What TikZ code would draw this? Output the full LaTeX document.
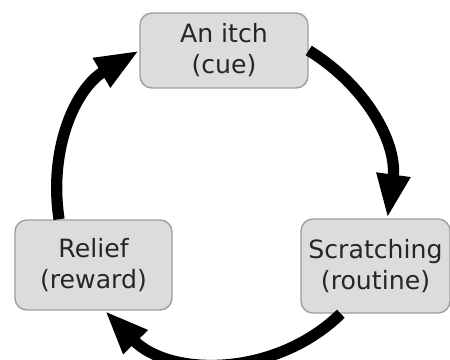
\documentclass[tikz,border=0pt]{standalone}
\usepackage{fontspec}
\setmainfont{DejaVu Sans}
\usetikzlibrary{arrows.meta}
\definecolor{boxgray}{HTML}{DCDCDC}
\definecolor{edgegray}{HTML}{9E9E9E}
\definecolor{textgray}{HTML}{262626}

\begin{document}
\begin{tikzpicture}[x=0.025cm, y=0.025cm,
    stage/.style={draw=edgegray, fill=boxgray, line width=1pt, rounded corners=0.3cm,
      align=center, text=textgray, inner sep=0pt, font=\fontsize{17.9}{22}\selectfont},
    cyclearrow/.style={line width=8pt, -{Triangle[length=1.1cm, width=0.78cm]}}]
        \useasboundingbox (0,0) rectangle (450,360);
        \node[stage, minimum width=4.2cm, minimum height=1.875cm] (cue) at (224,309.5) {An itch\\(cue)};
        \node[stage, minimum width=3.725cm, minimum height=2.35cm] (routine) at (375.5,94) {Scratching\\(routine)};
        \node[stage, minimum width=3.925cm, minimum height=2.25cm] (relief) at (93.5,95) {Relief\\(reward)};
        \draw[cyclearrow] (relief.127) to[bend left=34] (cue.west);
        \draw[cyclearrow] (cue.east) to[bend left=33] (routine.76);
        \draw[cyclearrow] (routine.234) to[bend left=45] (relief.284);
      \end{tikzpicture}
\end{document}
